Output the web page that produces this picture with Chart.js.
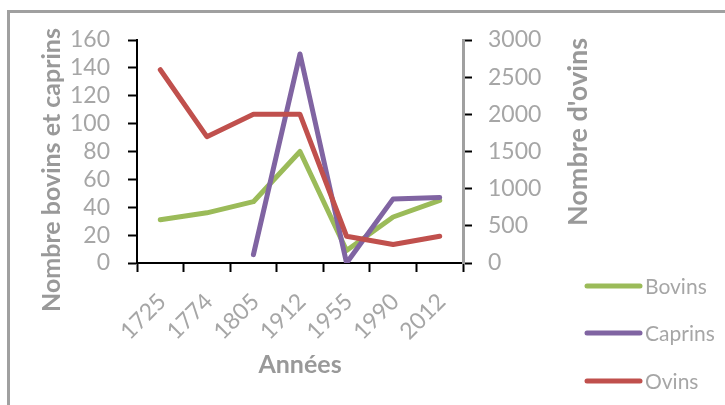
<!DOCTYPE html>
<html>
<head>
<meta charset="utf-8">
<script src="https://cdn.jsdelivr.net/npm/chart.js@4.4.1/dist/chart.umd.min.js"></script>
<style>
    body { margin: 0; background: #fff; overflow: hidden; }
    #frame {
        position: absolute; left: 7px; top: 10px; width: 800px; height: 500px;
        border-left: 3px solid #a0a0a0; border-top: 3px solid #a0a0a0;
    }
    #chart { position: absolute; left: 0; top: 0; }
</style>
</head>
<body>
<div id="frame"></div>
<canvas id="chart" width="725" height="405"></canvas>
<script>
const years = ['1725', '1774', '1805', '1912', '1955', '1990', '2012'];
const bovins = [31, 36, 44, 80, 9, 33, 45];
const caprins = [null, null, 6, 150, 0, 46, 47];
const ovins = [2600, 1700, 2000, 2000, 360, 250, 360];

const labelColor = '#a6a6a6';
const titleColor = '#999999';
const tickFont = { family: 'Lato', size: 23 };

// Axis titles (Excel style, both read bottom to top) and the legend
const extras = {
    id: 'extras',
    afterDraw(chart) {
        const ctx = chart.ctx;
        ctx.save();
        ctx.fillStyle = titleColor;
        ctx.textAlign = 'center';
        ctx.textBaseline = 'middle';

        ctx.save();
        ctx.font = 'bold 25px Lato';
        ctx.translate(52, 170);
        ctx.rotate(-Math.PI / 2);
        ctx.fillText('Nombre bovins et caprins', 0, 0);
        ctx.restore();

        ctx.save();
        ctx.font = 'bold 27px Lato';
        ctx.translate(578, 132);
        ctx.rotate(-Math.PI / 2);
        ctx.fillText("Nombre d'ovins", 0, 0);
        ctx.restore();

        // legend
        const rows = [286, 333, 381];
        ctx.font = '21px Lato';
        ctx.textAlign = 'left';
        ctx.fillStyle = labelColor;
        chart.data.datasets.forEach((ds, i) => {
            const y = rows[i];
            ctx.strokeStyle = ds.borderColor;
            ctx.lineWidth = 5;
            ctx.lineCap = 'round';
            ctx.beginPath();
            ctx.moveTo(587, y);
            ctx.lineTo(640, y);
            ctx.stroke();
            ctx.fillText(ds.label, 645, y + 1);
        });
        ctx.restore();
    }
};

new Chart(document.getElementById('chart'), {
    type: 'line',
    data: {
        labels: years,
        datasets: [
            { label: 'Bovins', data: bovins, yAxisID: 'y', borderColor: '#9bbb59', order: 2 },
            { label: 'Caprins', data: caprins, yAxisID: 'y', borderColor: '#8064a2', order: 1 },
            { label: 'Ovins', data: ovins, yAxisID: 'y1', borderColor: '#c0504d', order: 0 }
        ]
    },
    options: {
        responsive: false,
        animation: false,
        layout: { padding: { top: 40, left: 0, right: 0, bottom: 0 } },
        elements: {
            line: { borderWidth: 5, tension: 0, borderCapStyle: 'round', borderJoinStyle: 'round' },
            point: { radius: 0 }
        },
        plugins: {
            legend: { display: false },
            tooltip: { enabled: false }
        },
        scales: {
            x: {
                offset: true,
                grid: { drawOnChartArea: false, offset: true, tickLength: 9, tickColor: '#000', tickWidth: 2 },
                border: { color: '#000', width: 2 },
                ticks: { color: labelColor, font: tickFont, minRotation: 45, maxRotation: 45, padding: 16, labelOffset: 2, autoSkip: false },
                title: { display: true, text: 'Années', color: titleColor, font: { family: 'Lato', size: 25, weight: 'bold' }, padding: { top: 0, bottom: 25 } },
                afterFit: s => { s.height = 142; }
            },
            y: {
                position: 'left',
                min: 0,
                max: 160,
                ticks: { stepSize: 20, color: labelColor, font: tickFont, padding: 18, autoSkip: false },
                grid: { drawOnChartArea: false, tickLength: 9, tickColor: '#000', tickWidth: 2 },
                border: { color: '#000', width: 2 },
                afterFit: s => { s.width = 137; }
            },
            y1: {
                position: 'right',
                min: 0,
                max: 3000,
                ticks: { stepSize: 500, color: labelColor, font: tickFont, padding: 16, autoSkip: false, callback: v => String(v) },
                grid: { drawOnChartArea: false, tickLength: 9, tickColor: '#000', tickWidth: 2 },
                border: { color: '#a0a0a0', width: 3 },
                afterFit: s => { s.width = 262; }
            }
        }
    },
    plugins: [extras]
});
</script>
</body>
</html>
